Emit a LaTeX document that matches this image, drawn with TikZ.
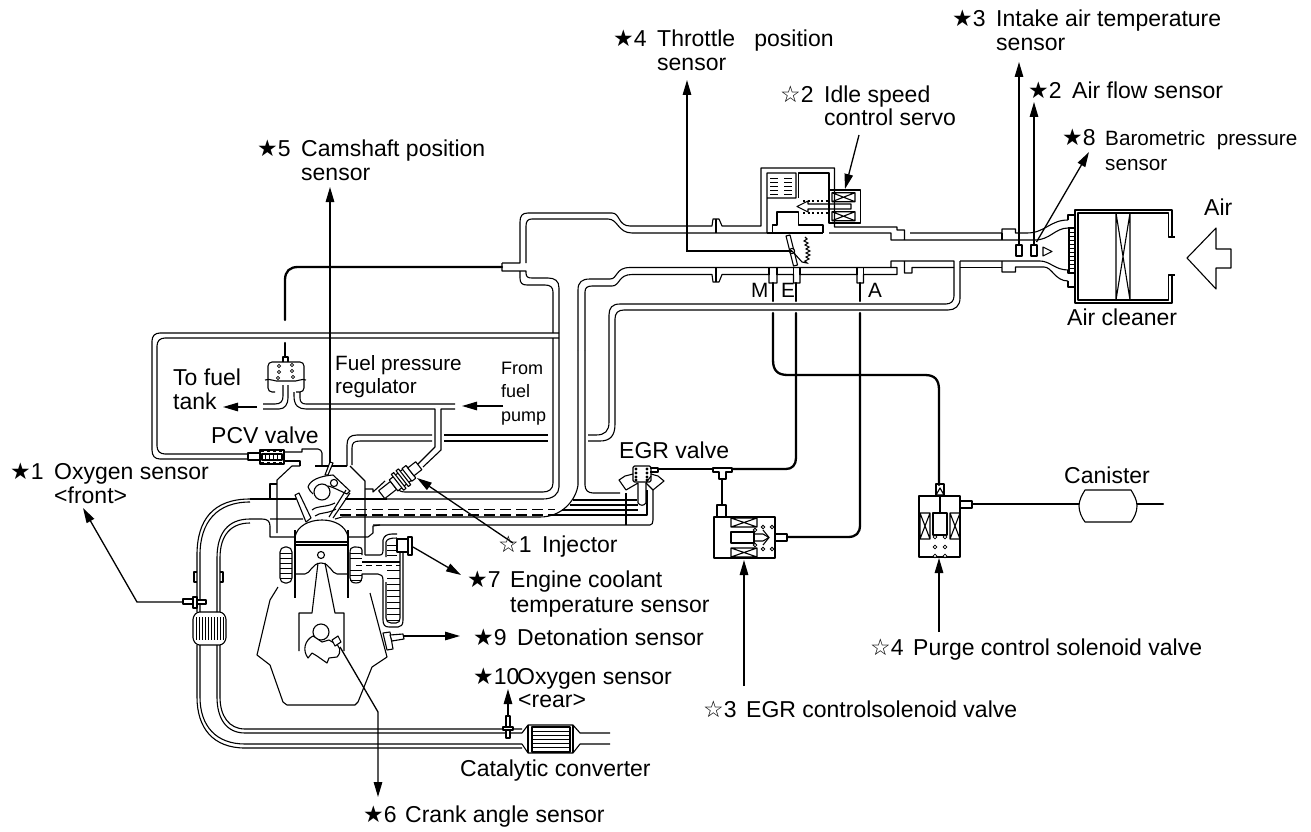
\documentclass[tikz,border=0pt]{standalone}
\usepackage{fontspec}
\setmainfont{Liberation Sans}
\newfontfamily\symf{DejaVu Sans}
\usetikzlibrary{arrows.meta}
\newcommand{\sk}{{\symf ★}}
\newcommand{\sw}{{\symf ☆}}
\tikzset{
 pipe/.style={line width=1.1pt,line join=round},
 fine/.style={line width=0.8pt},
 hvy/.style={line width=2.3pt,line cap=round},
 lead/.style={line width=1.3pt,-{Triangle[length=15pt,width=8.5pt]}},
 dsh/.style={line width=1.1pt,dash pattern=on 11pt off 5pt},
 lbl/.style={anchor=base west,inner sep=0pt,font=\fontsize{23}{24}\selectfont},
 lblm/.style={anchor=base west,inner sep=0pt,font=\fontsize{20.7}{24}\selectfont},
 lbls/.style={anchor=base west,inner sep=0pt,font=\fontsize{18}{24}\selectfont},
}
\begin{document}
\begin{tikzpicture}[x=1pt,y=-1pt]
\useasboundingbox (0,0) rectangle (1311,832);
%% ---------- upper duct
\draw[pipe] (502,263)--(520,263)--(520,222) .. controls (520,216) and (522,213) .. (528,213) -- (612,213) .. controls (620,213) and (618,226) .. (630,226) -- (712,226)--(713,219)--(719,219)--(722,226)--(761,226)--(761,168)--(834.5,168)--(834.5,227)--(897,227)--(897,230)--(904.5,230)--(904.5,240)--(891,240)--(891,233)--(829,233);
\draw[pipe] (829,190)--(829,173)--(798.5,173)--(798.5,198);
\draw[pipe] (526,263)--(526,226) .. controls (526,221) and (528,219) .. (532,219) -- (608,219) .. controls (618,219) and (618,233) .. (632,233) -- (767,233)--(767,173)--(796,173)--(796,198)--(767,198);
\draw[pipe] (716,219)--(716,233);
\foreach \yy in {178,182,186,190,194}{\draw[fine] (770,\yy)--(778,\yy) (784,\yy)--(792,\yy);}
%% servo
\draw[pipe] (829,190) rectangle (860.5,223);
\draw[pipe] (832,192.7) rectangle (855,201.7) (832,192.7)--(855,201.7) (855,192.7)--(832,201.7);
\draw[pipe] (832,211.7) rectangle (855,220.7) (832,211.7)--(855,220.7) (855,211.7)--(832,220.7);
\draw[pipe] (851,204)--(829,204)--(808,204)--(808,201)--(797,206.5)--(808,212)--(808,209)--(829,209)--(851,209)--cycle;
\draw[line width=1.6pt,dash pattern=on 2pt off 2.5pt] (803,200.7)--(829,200.7) (803,212.7)--(829,212.7);
%% valve seat
\draw[pipe] (772.5,233)--(772.5,225)--(777,225)--(777,212)--(798.5,212)--(798.5,225)--(823,225)--(823,233);
\draw[pipe] (767,233)--(823,233);
%% right of flange
\draw[pipe] (910,233)--(1002,233)--(1002,229)--(1015.5,229)--(1015.5,233)--(1027,233) .. controls (1045,233) and (1050,220) .. (1068,220);
\draw[pipe] (904.5,240)--(1035,240) .. controls (1050,240) and (1055,228) .. (1068,228);
\draw[pipe] (1002,233)--(1002,240);
%% ---------- lower duct
\draw[pipe] (578,350)--(578,290) .. controls (578,282) and (582,279) .. (590,279) -- (610,279) .. controls (618,279) and (615,267.5) .. (630,267.5) -- (891,267.5)--(891,261)--(904.5,261)--(904.5,273)--(912,273)--(912,267.5)--(954,267.5);
\draw[pipe] (904.5,261)--(954,261)--(954,296) .. controls (954,301) and (951,304) .. (946,304) -- (620,304) .. controls (612,304) and (609,308) .. (609,315) -- (609,422) .. controls (609,431) and (605,435) .. (596,435) -- (588,435);
\draw[pipe] (585,350)--(585,292) .. controls (585,288) and (587,286) .. (592,286) -- (612,286) .. controls (620,286) and (618,274.5) .. (632,274.5) -- (712,274.5)--(713,282)--(719,282)--(722,274.5)--(769,274.5)--(769,283)--(777,283)--(777,274.5)--(793.5,274.5)--(793.5,283)--(800,283)--(800,274.5)--(857,274.5)--(857,283)--(863.5,283)--(863.5,274.5)--(897,274.5)--(897,267.5)--(891,267.5);
\draw[pipe] (716,267.5)--(716,282) (769,267.5)--(769,274.5) (777,267.5)--(777,274.5) (793.5,267.5)--(793.5,274.5) (800,267.5)--(800,274.5) (857,267.5)--(857,274.5) (863.5,267.5)--(863.5,274.5);
\draw[pipe] (960,261)--(1040,261) .. controls (1050,261) and (1055,270) .. (1068,270);
\draw[pipe] (960,261)--(960,298) .. controls (960,306) and (955,310) .. (948,310) -- (624,310) .. controls (618,310) and (615,313) .. (615,319) -- (615,424) .. controls (615,436) and (610,441) .. (600,441) -- (588,441);
\draw[pipe] (960,267.5)--(1002,267.5);
\draw[pipe] (1002,261)--(1002,272)--(1015.5,272)--(1015.5,267)--(1044,267) .. controls (1052,267) and (1055,281) .. (1068,281);
%% ---------- air cleaner
\draw[pipe] (1172,237)--(1172,210)--(1075,210)--(1075,303)--(1172,303)--(1172,275);
\draw[pipe] (1175,237)--(1168.5,237)--(1168.5,213)--(1078,213)--(1078,300)--(1168.5,300)--(1168.5,275)--(1175,275);
\draw[pipe] (1075,215)--(1068,215)--(1068,220) (1068,228)--(1076,228) (1075,287)--(1068,287)--(1068,281) (1068,270)--(1068,273)--(1076,273);
\draw[pipe] (1069,228)--(1069,273);
\foreach \yy in {232,236,240,244,248,252,256,260,264,268}{\draw[fine] (1069,\yy)--(1076,\yy);}
\draw[pipe] (1116,213)--(1116,300) (1130,213)--(1130,300) (1116,213)--(1130,300) (1130,213)--(1116,300);
%% air arrow
\draw[pipe] (1187,258)--(1216,228)--(1216,249)--(1231,249)--(1231,268)--(1216,268)--(1216,289)--cycle;
%% sensors in duct
\draw[pipe,fill=white] (1016,245) rectangle (1022,256);
\draw[pipe,fill=white] (1031,245) rectangle (1037,256);
\draw[pipe] (1043,247)--(1052,251.5)--(1043,256)--cycle;
%% throttle
\draw[pipe,fill=white] (786,236)--(790,235)--(797.5,265)--(793.5,266)--cycle;
\coordinate (thp) at (792,251);
\draw[pipe,fill=white] (thp) circle (2.6);
\draw[line width=1.1pt] (792,251)--(802,262) (805,237)--(807,239)--(804,241)--(808,243)--(805,245)--(809,247)--(806,249)--(810,251)--(806,253)--(810,255)--(806,257)--(809,259)--(805,261)--(807,263)--(802,262);
%% ---------- thick vacuum lines
\draw[hvy] (285,320)--(285,280) .. controls (285,271) and (290,267) .. (298,267) -- (502,267);
\draw[hvy] (285,343)--(285,357);
\coordinate (portm) at (773,283); \coordinate (porte) at (796,283); \coordinate (porta) at (860,283);
\draw[hvy] (portm)--(773,301) (porte)--(796,301) (porta)--(860,301);
\draw[hvy] (773,313)--(773,360) .. controls (773,371) and (778,375) .. (788,375) -- (925,375) .. controls (935,375) and (939,380) .. (939,390) -- (939,485);
\draw[hvy] (796,313)--(796,458) .. controls (796,465) and (792,469) .. (786,469) -- (732,469);
\draw[hvy] (658,469)--(713,469);
\draw[hvy] (722,479)--(722,505);
\draw[hvy] (860,313)--(860,525) .. controls (860,533) and (856,537) .. (848,537) -- (787,537);
\draw[hvy] (972,504)--(1079,504) (1137,504)--(1163,504);
%% canister
\draw[pipe,fill=white] (1085,490)--(1131,490) .. controls (1134,495) and (1137,500) .. (1137,506) .. controls (1137,512) and (1134,518) .. (1131,522) -- (1085,522) .. controls (1082,518) and (1079,512) .. (1079,506) .. controls (1079,500) and (1082,495) .. (1085,490) -- cycle;
%% ---------- T and EGR solenoid
\draw[pipe,fill=white] (713,468)--(732,468)--(732,472)--(726,472)--(726,479)--(719,479)--(719,472)--(713,472)--cycle;
\draw[pipe] (717,517)--(717,505)--(726,505)--(726,517);
\draw[pipe] (714,517) rectangle (775,558);
\draw[pipe] (731,518) rectangle (757,527) (731,518)--(757,527) (757,518)--(731,527);
\draw[pipe] (731,548) rectangle (757,557) (731,548)--(757,557) (757,548)--(731,557);
\draw[pipe] (731,532) rectangle (754,543);
\draw[pipe] (754,534)--(763,534)--(769,537.5)--(763,541)--(754,541);
\draw[pipe] (763,530)--(769,537.5)--(763,545);
\draw[pipe] (775,534)--(787,534)--(787,541)--(775,541);
\foreach \cx/\cy in {755/530,755/545,763/527,763/549,772/527,772/549}{\draw[fine,fill=white] (\cx,\cy) circle (1.8);}
%% ---------- purge solenoid
\draw[pipe] (936,497)--(936,484)--(944,484)--(944,497);
\draw[pipe] (940,488)--(944,495)--(936,495)--cycle;
\draw[pipe] (940,495)--(940,513);
\draw[pipe] (960,501)--(972,501)--(972,508)--(960,508);
\draw[pipe] (919,496)--(960,496)--(960,557)--(919,557)--cycle;
\draw[pipe] (920,513) rectangle (930,539) (920,513)--(930,539) (930,513)--(920,539);
\draw[pipe] (950,513) rectangle (960,539) (950,513)--(960,539) (960,513)--(950,539);
\draw[pipe] (933,513) rectangle (947,535);
\foreach \cx in {935,945}{\foreach \cy in {537,547,556}{\draw[fine,fill=white] (\cx,\cy) circle (1.9);}}
%% ---------- EGR valve
\draw[pipe] (650,468)--(658,468)--(658,472)--(650,472);
\draw[pipe,rounded corners=1.5] (633,466) rectangle (651,482);
\foreach \cx in {636,647}{\foreach \cy in {469,473,477,480}{\draw[fine,fill=white] (\cx,\cy) circle (1);}}
\draw[pipe] (633,474)--(625,476)--(619,480)--(626,490)--(638,483)--(638,503) .. controls (640,506) and (644,506) .. (646,503) -- (646,483)--(651,476);
\draw[pipe] (646,483)--(653,490)--(664,481)--(658,476)--(651,474);
\draw[pipe] (573,500)--(637,500) (570,505)--(638,505) (562,510)--(638,510) (552,515)--(647,515)--(647,490);
\draw[pipe] (626,493)--(626,525);
\draw[pipe] (373,525)--(650,525) .. controls (652,525) and (653,523) .. (653,520) -- (653,490);
\draw[pipe] (578,350)--(578,485) .. controls (576,500) and (562,517) .. (540,517) -- (342,517);
\draw[pipe] (585,350)--(585,485) .. controls (585,490) and (588,493) .. (593,493) -- (620,493);
\draw[dsh] (340,509.5)--(555,509.5) (340,515)--(552,515);
%% ---------- return loop
\draw[pipe] (559,333)--(160,333) .. controls (155,333) and (152,336) .. (152,341) -- (152,450) .. controls (152,456) and (155,459) .. (160,459) -- (248,459);
\draw[pipe] (559,338)--(165,338) .. controls (160,338) and (157,341) .. (157,346) -- (157,446) .. controls (157,451) and (160,454) .. (165,454) -- (248,454);
%% vertical tube from duct
\draw[pipe] (520,271)--(520,278) .. controls (520,283) and (522,285) .. (527,285) -- (545,285) .. controls (550,285) and (553,287) .. (553,292) -- (553,333);
\draw[pipe] (502,263)--(502,271)--(526,271)--(526,273) .. controls (526,277) and (528,278) .. (532,278) -- (548,278) .. controls (555,278) and (559,281) .. (559,288) -- (559,487) .. controls (559,494) and (553,499) .. (543,499) -- (387,499);
\draw[pipe] (553,338)--(553,483) .. controls (553,489) and (549,492) .. (543,492) -- (405,492) .. controls (400,492) and (398,490) .. (398,487);
%% ---------- fuel rail and regulator
\draw[pipe] (263,404)--(275,404) .. controls (281,404) and (283,401) .. (283,396) -- (283,385);
\draw[pipe] (263,409)--(279,409) .. controls (285,409) and (288,404) .. (288,398) -- (288,385);
\draw[pipe] (294,392)--(294,396) .. controls (294,406) and (299,409) .. (306,409) -- (435,409)--(435,447)--(417,465);
\draw[pipe] (300,392)--(300,398) .. controls (300,402) and (302,404) .. (306,404) -- (455,404);
\draw[pipe] (455,409)--(441,409)--(441,450)--(423,467);
\draw[pipe,rounded corners=4] (275,392)--(268,392)--(268,362)--(304,362)--(304,392)--(296,392);
\draw[pipe] (283,362)--(283,357)--(288,357)--(288,362);
\draw[pipe] (265,380) .. controls (270,378) and (275,382) .. (280,381) -- (292,381) .. controls (297,382) and (302,378) .. (306,380);
\foreach \cx/\cy in {279/366,279/372,278/378,292/365,292/371,293/377}{\draw[fine] (\cx,\cy) circle (1.6);}
%% intake runner (short loop end)
\draw[pipe] (432,435)--(357,435) .. controls (350,435) and (347,438) .. (347,445) -- (347,466);
\draw[pipe] (432,441)--(360,441) .. controls (354,441) and (352,443) .. (352,448) -- (352,465);
\draw[pipe] (444,435)--(548,435) (444,441)--(548,441);
%% PCV
\draw[pipe] (260,453)--(248,453)--(248,460)--(260,460);
\draw[pipe] (260,450) rectangle (284,464);
\draw[pipe] (262,454) rectangle (282,460);
\draw[line width=1.6pt,dash pattern=on 3pt off 3pt] (261,451.5)--(283,451.5) (261,462.5)--(283,462.5);
\foreach \xx in {265,269,273,277}{\draw[fine] (\xx,454)--(\xx,460);}
\draw[pipe] (284,452)--(302,452)--(302,449)--(318,449) .. controls (320,449) and (322,451) .. (322,453) -- (322,466);
\draw[pipe] (284,461)--(300,461)--(300,466);
%% ---------- cylinder head outline
\draw[pipe] (315,466)--(347,466);
\draw[pipe] (300,466)--(292,466)--(277,480)--(277,533);
\draw[pipe] (350,466)--(365,481)--(365,555);
\draw[pipe] (277,484)--(270,484)--(270,499);
\draw[pipe] (250,499) .. controls (213,499) and (197,520) .. (197,555) -- (197,612);
\draw[pipe] (250,502) .. controls (217,502) and (200,522) .. (200,555) -- (200,612);
\draw[pipe] (270,499)--(250,499);
\draw[pipe] (250,519)--(262,519) .. controls (267,519) and (270,521) .. (270,526) -- (270,537)--(295,537);
\draw[pipe] (250,519) .. controls (228,519) and (217,533) .. (217,558) -- (217,612);
\draw[pipe] (250,523) .. controls (231,523) and (220,535) .. (220,558) -- (220,612);
\draw[pipe] (348,537)--(368,537)--(373,533)--(373,526) -- (380,525);
\draw[pipe] (270,499)--(296,499) (345,499)--(373,499);
\draw[pipe] (270,519)--(303,519) (335,519)--(342,517);
\draw[pipe] (365,489)--(373,489)--(373,492)--(385,481);
\draw[pipe] (373,499)--(387,499);
%% flanges on exhaust
\draw[pipe] (197,572)--(194,572)--(194,582)--(197,582) (220,572)--(223,572)--(223,582)--(220,582);
%% muffler
\draw[pipe,rounded corners=2.5] (197,612)--(193,617)--(193,640)--(197,645)--(222,645)--(226,640)--(226,617)--(222,612)--cycle;
\foreach \xx in {196,199,202,205,208,211,214,217,220,223}{\draw[fine] (\xx,617)--(\xx,640);}
%% exhaust lower
\draw[pipe] (197,645)--(197,697) .. controls (197,728) and (213,748) .. (245,748) -- (522,748);
\draw[pipe] (200,645)--(200,697) .. controls (200,726) and (216,744) .. (245,744) -- (522,744);
\draw[pipe] (217,645)--(217,697) .. controls (217,718) and (226,733) .. (245,733) -- (522,733);
\draw[pipe] (220,645)--(220,697) .. controls (220,716) and (229,729) .. (245,729) -- (503,729) (513,729)--(522,729);
%% catalytic
\draw[pipe] (522,733)--(528,725)--(573,725)--(580,733)--(610,733);
\draw[pipe] (522,744)--(528,753)--(573,753)--(580,744)--(610,744);
\draw[pipe] (528,725)--(528,753) (573,725)--(573,753);
\draw[pipe] (532,727) rectangle (570,752);
\foreach \yy in {731,735,739,743,747}{\draw[fine] (532,\yy)--(570,\yy);}
%% rear O2
\draw[pipe,fill=white] (506,716) rectangle (510,727);
\draw[pipe,fill=white] (503,727) rectangle (513,730);
\draw[pipe,fill=white] (506,730) rectangle (510,738);
%% front O2
\draw[pipe,fill=white] (183,599) rectangle (193,604);
\draw[pipe,fill=white] (193,597) rectangle (197,608);
\draw[pipe,fill=white] (197,600) rectangle (206,604);
%% ---------- cylinder
\draw[pipe] (295,530)--(295,598) (348,530)--(348,598);
\draw[pipe] (295,537) .. controls (297,526) and (309,520) .. (322,520) .. controls (335,520) and (346,526) .. (348,537);
\draw[pipe] (295,542)--(348,542) (295,545)--(348,545);
\draw[pipe] (321,555) circle (3.5);
\draw[pipe] (295,574)--(305,574) .. controls (310,574) and (312,563) .. (321,563) .. controls (330,563) and (332,574) .. (337,574) -- (348,574);
\draw[pipe] (318,563)--(312,613)--(299,613)--(299,651);
\draw[pipe] (325,563)--(335,613)--(344,613)--(344,651);
%% block
\draw[pipe] (278,587)--(270,600)--(257,655)--(270,665)--(283,702)--(287,705)--(355,705)--(358,702)--(372,667)--(387,657)--(370,593);
%% crank
\draw[pipe] (321,632) circle (8);
\draw[pipe,fill=white] (313,636) .. controls (305,640) and (302,650) .. (308,658) -- (312,653) -- (317,656) -- (327,663) -- (329,658) -- (337,657) .. controls (342,652) and (340,645) .. (334,643) -- (329,640) -- (322,642) -- cycle;
\draw[pipe,fill=white] (332,640)--(338,636)--(341,642)--(335,646)--cycle;
%% jackets
\draw[pipe,rounded corners=5] (280,547) rectangle (292,583);
\foreach \yy in {553,558,563,568,573,578}{\draw[fine] (280,\yy)--(292,\yy);}
\draw[pipe] (365,555)--(380,555) .. controls (383,555) and (383,552) .. (383,548) -- (383,540) .. controls (384,536) and (387,534) .. (392,534) -- (397,534);
\draw[pipe] (386,557)--(386,542) .. controls (387,539) and (390,538) .. (397,538);
\draw[pipe] (362,555)--(362,550) .. controls (362,547) and (358,547) .. (356,547) -- (354,547) .. controls (351,547) and (350,549) .. (350,553) -- (350,578) .. controls (350,581) and (352,583) .. (356,583) .. controls (360,583) and (362,581) .. (362,578) -- (362,574)--(378,574) .. controls (381,574) and (383,576) .. (383,580) -- (383,620) .. controls (383,625) and (385,627) .. (389,627) -- (398,627) .. controls (401,627) and (403,625) .. (403,620) -- (403,552);
\draw[pipe] (386,582)--(386,618) .. controls (386,621) and (388,623) .. (391,623) -- (396,623) .. controls (399,623) and (400,621) .. (400,618) -- (400,552);
\draw[pipe] (362,562)--(400,562);
\draw[line width=1pt,dash pattern=on 6pt off 4pt] (356,565)--(400,565);
\foreach \yy in {553,558,570,575,580}{\draw[fine] (350,\yy)--(362,\yy);}
\foreach \yy in {570,578,584,590,596,602,608,614,620}{\draw[fine] (387,\yy)--(400,\yy);}
\foreach \yy in {545,550,555}{\draw[fine] (387,\yy)--(397,\yy);}
%% coolant sensor
\draw[pipe,fill=white] (397,539) rectangle (408,552);
\draw[pipe,fill=white] (408,537) rectangle (412,555);
%% detonation sensor
\draw[pipe,fill=white] (383,633)--(390,632)--(393,649)--(387,650)--cycle;
\draw[pipe,fill=white] (390,635)--(403,634)--(404,639)--(392,641)--cycle;
%% ---------- cam and valves
\draw[pipe] (322,492) circle (8);
\draw[pipe] (308,487) .. controls (310,480) and (320,476) .. (333,475) -- (350,491)--(347,494) .. controls (338,490) and (333,487) .. (328,486);
\draw[pipe] (308,487) .. controls (309,490) and (311,492) .. (313,494);
\draw[pipe] (334,483) circle (3.6);
\draw[pipe,fill=white] (325,475)--(328,475)--(333,463)--(330,462)--cycle;
\draw[pipe,fill=white] (295,495)--(299,493)--(311,518)--(306,522)--cycle;
\draw[pipe] (350,493)--(333,518) (346,490)--(329,517);
\draw[pipe] (312,510) .. controls (318,505) and (325,508) .. (335,503);
\draw[pipe] (315,516) .. controls (320,512) and (328,514) .. (336,509);
%% ---------- injector
\begin{scope}[shift={(403,478)},rotate=38]
 \draw[pipe,fill=white] (-27,-5) rectangle (-12,5);
 \draw[pipe,fill=white] (-12,-7) rectangle (10,7);
 \draw[pipe,fill=white] (-7,-10) rectangle (-4,10);
 \draw[pipe,fill=white] (-1,-10) rectangle (2,10);
 \draw[pipe,fill=white] (5,-8) rectangle (10,8);
 \draw[pipe,fill=white] (10,-5) rectangle (20,5);
\end{scope}
%% ---------- leaders
\coordinate (a3s) at (1019,245); \coordinate (a3t) at (1019,62);
\coordinate (a2s) at (1034,245); \coordinate (a2t) at (1034,102);
\coordinate (a8s) at (1036.5,242); \coordinate (a8t) at (1089,152);
\coordinate (i2s) at (859,135); \coordinate (i2t) at (845,189);
\coordinate (a4k) at (687,251); \coordinate (a4t) at (687,80);
\coordinate (a5s) at (330,463); \coordinate (a5t) at (330,187);
\coordinate (a1s) at (183,602); \coordinate (a1k) at (137,602); \coordinate (a1t) at (83,508);
\coordinate (a7s) at (413,547); \coordinate (a7t) at (461,575);
\coordinate (a9s) at (404,636); \coordinate (a9t) at (460,636);
\coordinate (a10s) at (508,716); \coordinate (a10t) at (508,689);
\coordinate (a6s) at (340,647); \coordinate (a6k) at (378,712); \coordinate (a6t) at (378,797);
\coordinate (i1s) at (513,543); \coordinate (i1t) at (417,478);
\coordinate (ftt) at (223,407); \coordinate (fts) at (257,407);
\coordinate (fps) at (503,406); \coordinate (fpt) at (462,406);
\coordinate (i3s) at (744,686); \coordinate (i3t) at (744,560);
\coordinate (i4s) at (939,632); \coordinate (i4t) at (939,558);
\draw[lead] (a3s)--(a3t);
\draw[lead] (a2s)--(a2t);
\draw[lead] (a8s)--(a8t);
\draw[lead] (i2s)--(i2t);
\draw[lead] (thp)--(a4k)--(a4t);
\draw[lead] (a5s)--(a5t);
\draw[lead] (a1s)--(a1k)--(a1t);
\draw[lead] (a7s)--(a7t);
\draw[lead] (a9s)--(a9t);
\draw[lead] (a10s)--(a10t);
\draw[lead] (a6s)--(a6k)--(a6t);
\draw[lead] (i1s)--(i1t);
\draw[lead] (fts)--(ftt);
\draw[lead] (fps)--(fpt);
\draw[lead] (i3s)--(i3t);
\draw[lead] (i4s)--(i4t);
%% ---------- labels
\node[lbl] (n3) at (952,27) {\sk3};
\node[lbl] (n3a) at (996,27) {Intake air temperature};
\node[lbl] (n3b) at (996,51) {sensor};
\node[lbl] (n2) at (1028,99) {\sk2};
\node[lbl] (n2a) at (1072,99) {Air flow sensor};
\node[lbl] (n8) at (1062,146) {\sk8};
\node[lblm] (n8a) at (1105,146) {Barometric\ \ pressure};
\node[lblm] (n8b) at (1105,170) {sensor};
\node[lbl] (n4) at (613,47) {\sk4};
\node[lbl] (n4a) at (657,47) {Throttle\ \ \ position};
\node[lbl] (n4b) at (657,71) {sensor};
\node[lbl] (m2) at (780,103) {\sw2};
\node[lbl] (m2a) at (824,103) {Idle speed};
\node[lbl] (m2b) at (824,126) {control servo};
\node[lbl] (n5) at (257,157) {\sk5};
\node[lbl] (n5a) at (301,157) {Camshaft position};
\node[lbl] (n5b) at (301,180) {sensor};
\node[lbl] (air) at (1204,215) {Air};
\node[lbl] (cln) at (1067,325) {Air cleaner};
\node[lblm] (pm) at (751,297) {M};
\node[lblm] (pe) at (781,297) {E};
\node[lblm] (pa) at (868,297) {A};
\node[lbl] (tf) at (173,385) {To fuel};
\node[lbl] (tfb) at (173,409) {tank};
\node[lblm] (fr) at (335,370) {Fuel pressure};
\node[lblm] (frb) at (335,393) {regulator};
\node[lbls] (ff) at (501,374) {From};
\node[lbls] (ffb) at (501,397) {fuel};
\node[lbls] (ffc) at (501,421) {pump};
\node[lbl] (pcv) at (211,443) {PCV valve};
\node[lbl] (egrv) at (619,458) {EGR valve};
\node[lbl] (can) at (1064,483) {Canister};
\node[lbl] (n1) at (10,479) {\sk1};
\node[lbl] (n1a) at (54,479) {Oxygen sensor};
\node[lbl] (n1b) at (54,503) {<front>};
\node[lbl] (m1) at (498,552) {\sw1};
\node[lbl] (m1a) at (542,552) {Injector};
\node[lbl] (n7) at (467,587) {\sk7};
\node[lbl] (n7a) at (510,587) {Engine coolant};
\node[lbl] (n7b) at (510,612) {temperature sensor};
\node[lbl] (n9) at (473,645) {\sk9};
\node[lbl] (n9a) at (517,645) {Detonation sensor};
\node[lbl] (n10) at (473,684) {\sk10};
\node[lbl] (n10a) at (517,684) {Oxygen sensor};
\node[lbl] (n10b) at (518,707) {<rear>};
\node[lbl] (cat) at (460,776) {Catalytic converter};
\node[lbl] (n6) at (363,822) {\sk6};
\node[lbl] (n6a) at (405,822) {Crank angle sensor};
\node[lbl] (m4) at (870,655) {\sw4};
\node[lbl] (m4a) at (913,655) {Purge control solenoid valve};
\node[lbl] (m3) at (703,717) {\sw3};
\node[lbl] (m3a) at (746,717) {EGR controlsolenoid valve};
\end{tikzpicture}
\end{document}
